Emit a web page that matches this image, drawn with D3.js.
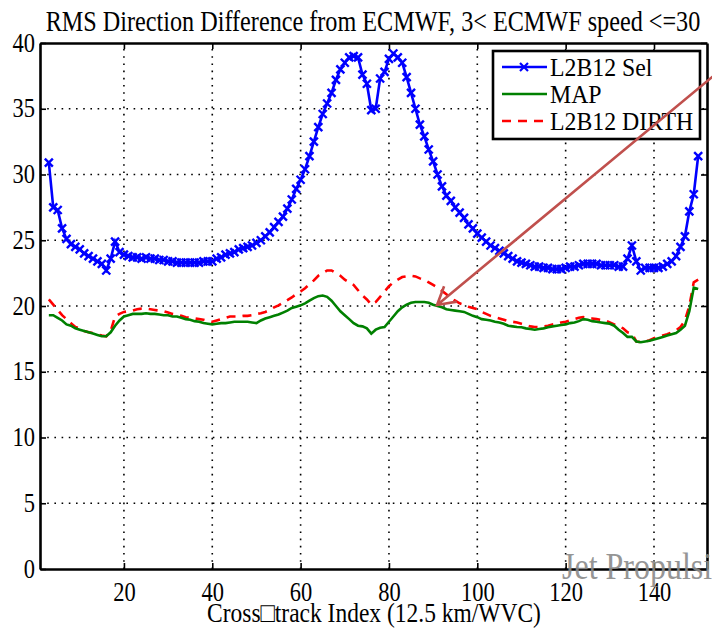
<!DOCTYPE html>
<html>
<head>
<meta charset="utf-8">
<script src="https://cdn.jsdelivr.net/npm/d3@7/dist/d3.min.js"></script>
<style>
  body { margin: 0; background: #fff; }
  text { font-family: "Liberation Serif", "Times New Roman", serif; fill: #000; }
</style>
</head>
<body>
<script>
// cross-track cells 3..150, one value per cell
var firstCell = 3;

var selRms = [
  30.9, 27.5, 27.3, 25.9, 25.1, 24.7, 24.5, 24.3, 24.0, 23.8,
  23.6, 23.4, 23.2, 22.7, 23.6, 24.9, 24.1, 23.9, 23.8, 23.7,
  23.7, 23.6, 23.7, 23.6, 23.6, 23.5, 23.5, 23.4, 23.4, 23.3,
  23.3, 23.3, 23.3, 23.3, 23.3, 23.4, 23.4, 23.4, 23.6, 23.7,
  23.9, 24.0, 24.1, 24.3, 24.4, 24.5, 24.6, 24.8, 25.0, 25.3,
  25.6, 26.0, 26.4, 26.8, 27.4, 28.1, 28.9, 29.6, 30.4, 31.4,
  32.5, 33.6, 34.6, 35.4, 36.2, 37.2, 38.0, 38.5, 38.9, 39.0,
  38.9, 37.6, 36.9, 34.9, 35.0, 37.3, 37.8, 38.8, 39.2, 38.9,
  38.5, 37.4, 36.2, 35.0, 33.8, 32.9, 31.9, 31.0, 30.0, 29.1,
  28.4, 28.0, 27.5, 27.1, 26.7, 26.2, 25.9, 25.5, 25.2, 24.9,
  24.6, 24.4, 24.2, 24.0, 23.8, 23.6, 23.4, 23.3, 23.2, 23.1,
  23.0, 23.0, 22.9, 22.9, 22.8, 22.8, 22.8, 22.9, 23.0, 23.0,
  23.1, 23.2, 23.2, 23.2, 23.2, 23.1, 23.1, 23.1, 23.1, 23.0,
  23.0, 23.6, 24.6, 23.4, 22.7, 22.9, 22.9, 22.9, 22.9, 23.0,
  23.2, 23.4, 23.8, 24.5, 25.3, 27.2, 28.5, 31.4
];

var mapRms = [
  19.3, 19.3, 19.1, 18.9, 18.6, 18.5, 18.3, 18.2, 18.1, 18.0,
  17.9, 17.8, 17.7, 17.7, 18.0, 18.5, 18.9, 19.2, 19.3, 19.4,
  19.4, 19.4, 19.45, 19.4, 19.4, 19.35, 19.3, 19.3, 19.2, 19.2,
  19.1, 19.0, 18.95, 18.85, 18.8, 18.7, 18.65, 18.6, 18.65, 18.7,
  18.7, 18.75, 18.8, 18.8, 18.8, 18.8, 18.75, 18.7, 18.9, 19.05,
  19.15, 19.25, 19.35, 19.5, 19.65, 19.85, 19.95, 20.05, 20.2, 20.4,
  20.6, 20.75, 20.8, 20.7, 20.4, 20.0, 19.6, 19.3, 19.0, 18.7,
  18.5, 18.45, 18.3, 17.9, 18.2, 18.35, 18.4, 18.8, 19.2, 19.6,
  19.9, 20.1, 20.25, 20.3, 20.3, 20.3, 20.25, 20.1, 20.0, 19.9,
  19.75, 19.7, 19.65, 19.6, 19.55, 19.4, 19.25, 19.15, 19.0, 18.95,
  18.9, 18.8, 18.75, 18.65, 18.5, 18.45, 18.4, 18.38, 18.3, 18.25,
  18.2, 18.25, 18.3, 18.38, 18.45, 18.5, 18.55, 18.6, 18.7, 18.75,
  18.85, 19.0, 18.95, 18.85, 18.8, 18.75, 18.7, 18.65, 18.5, 18.2,
  17.95, 17.65, 17.65, 17.3, 17.25, 17.3, 17.35, 17.45, 17.55, 17.65,
  17.75, 17.85, 17.95, 18.2, 18.5, 19.6, 21.4, 21.3
];

var dirthRms = [
  20.5, 20.1, 19.7, 19.3, 19.0, 18.7, 18.4, 18.3, 18.1, 18.0,
  17.95, 17.85, 17.75, 17.7, 18.1, 19.2, 19.4, 19.55, 19.6, 19.65,
  19.75, 19.8, 19.8, 19.75, 19.7, 19.65, 19.6, 19.5, 19.4, 19.35,
  19.25, 19.15, 19.1, 19.05, 19.0, 18.95, 18.85, 18.8, 18.9, 19.0,
  19.1, 19.2, 19.2, 19.2, 19.25, 19.25, 19.3, 19.4, 19.45, 19.55,
  19.7, 19.9, 20.05, 20.25, 20.45, 20.65, 20.9, 21.1, 21.35, 21.65,
  21.95, 22.3, 22.5, 22.7, 22.7, 22.5, 22.3, 22.0, 21.8, 21.6,
  21.2, 20.8, 20.5, 20.1, 20.3, 20.7, 21.1, 21.5, 21.8, 22.0,
  22.2, 22.25, 22.3, 22.25, 22.1, 22.0, 21.8, 21.6, 21.4, 21.15,
  20.9, 20.6, 20.4, 20.2, 20.1, 19.95, 19.85, 19.75, 19.55, 19.4,
  19.25, 19.15, 19.05, 18.95, 18.85, 18.8, 18.75, 18.65, 18.55, 18.45,
  18.4, 18.4, 18.45, 18.5, 18.6, 18.65, 18.75, 18.8, 18.9, 19.0,
  19.1, 19.15, 19.1, 19.05, 19.0, 18.95, 18.9, 18.75, 18.6, 18.45,
  18.3, 18.0, 17.9, 17.3, 17.25, 17.3, 17.4, 17.55, 17.65, 17.75,
  17.85, 18.0, 18.15, 18.4, 18.9, 20.0, 21.8, 22.0
];

var seriesNames = ["L2B12 Sel", "MAP", "L2B12 DIRTH"];
var xTicks = [20, 40, 60, 80, 100, 120, 140];
var yTicks = [0, 5, 10, 15, 20, 25, 30, 35, 40];

// annotation arrow, [cell, value]: tail then head
var arrowPts = [[156, 38.2], [90.9, 20.08]];

var width = 712, height = 628;
var margin = {top: 43, right: 5, bottom: 59, left: 40};
var stretch = 1.18;   // glyphs are drawn a bit taller than wide

var svg = d3.select("body").append("svg")
    .attr("width", width)
    .attr("height", height);

var x = d3.scaleLinear()
    .domain([1, 152])
    .range([margin.left, width - margin.right]);

var y = d3.scaleLinear()
    .domain([0, 40])
    .range([height - margin.bottom, margin.top]);

function toPoints(vals) {
  return vals.map(function(v, i) { return [firstCell + i, v]; });
}

var line = d3.line()
    .x(function(d) { return x(d[0]); })
    .y(function(d) { return y(d[1]); });

// dotted grid
var grid = svg.append("g")
    .attr("stroke", "#000")
    .attr("stroke-width", 1.6)
    .attr("stroke-dasharray", "1.6,5.6");

grid.selectAll("line.v")
  .data(xTicks)
  .enter().append("line")
    .attr("class", "v")
    .attr("x1", function(d) { return x(d); })
    .attr("x2", function(d) { return x(d); })
    .attr("y1", y(0))
    .attr("y2", y(40));

grid.selectAll("line.h")
  .data(yTicks.slice(1, -1))
  .enter().append("line")
    .attr("class", "h")
    .attr("y1", function(d) { return y(d); })
    .attr("y2", function(d) { return y(d); })
    .attr("x1", x(1))
    .attr("x2", x(152));

// series
svg.append("path")
    .attr("d", line(toPoints(dirthRms)))
    .attr("fill", "none")
    .attr("stroke", "#ff0000")
    .attr("stroke-width", 2.6)
    .attr("stroke-dasharray", "9,7");

svg.append("path")
    .attr("d", line(toPoints(mapRms)))
    .attr("fill", "none")
    .attr("stroke", "#008000")
    .attr("stroke-width", 2.6);

svg.append("path")
    .attr("d", line(toPoints(selRms)))
    .attr("fill", "none")
    .attr("stroke", "#0000ff")
    .attr("stroke-width", 2.6);

var m = 4;
function crossPath(cx, cy) {
  return "M" + (cx - m) + "," + (cy - m) + "L" + (cx + m) + "," + (cy + m) +
         "M" + (cx - m) + "," + (cy + m) + "L" + (cx + m) + "," + (cy - m);
}

svg.append("g")
  .selectAll("path")
  .data(toPoints(selRms))
  .enter().append("path")
    .attr("d", function(d) { return crossPath(x(d[0]), y(d[1])); })
    .attr("stroke", "#0000ff")
    .attr("stroke-width", 2.4);

// axes: ticks point inward on all four sides
var axisB = svg.append("g")
    .attr("transform", "translate(0," + y(0) + ")")
    .call(d3.axisBottom(x).tickValues(xTicks).tickSizeInner(-6).tickSizeOuter(0));

var axisT = svg.append("g")
    .attr("transform", "translate(0," + y(40) + ")")
    .call(d3.axisTop(x).tickValues(xTicks).tickSizeInner(-6).tickSizeOuter(0).tickFormat(""));

var axisL = svg.append("g")
    .attr("transform", "translate(" + x(1) + ",0)")
    .call(d3.axisLeft(y).tickValues(yTicks).tickSizeInner(-6).tickSizeOuter(0));

var axisR = svg.append("g")
    .attr("transform", "translate(" + x(152) + ",0)")
    .call(d3.axisRight(y).tickValues(yTicks).tickSizeInner(-6).tickSizeOuter(0).tickFormat(""));

[axisB, axisT, axisL, axisR].forEach(function(a) {
  a.select(".domain").attr("stroke", "#000").attr("stroke-width", 2.6);
  a.selectAll(".tick line").attr("stroke", "#000").attr("stroke-width", 1.6);
  a.selectAll("text")
      .attr("font-family", "Liberation Serif, Times New Roman, serif")
      .attr("font-size", 22.5)
      .attr("fill", "#000");
});

// tick labels: place by baseline and stretch vertically
axisB.selectAll(".tick text")
    .attr("x", 0).attr("y", 0).attr("dy", null)
    .attr("transform", "translate(0,32) scale(1," + stretch + ")");

axisL.selectAll(".tick text")
    .attr("x", 0).attr("y", 0).attr("dy", null)
    .attr("text-anchor", "end")
    .attr("transform", "translate(-5,8) scale(1," + stretch + ")");

// title and axis label
svg.append("text")
    .attr("transform", "translate(373,31) scale(1," + stretch + ")")
    .attr("text-anchor", "middle")
    .attr("font-size", 24.2)
    .text("RMS Direction Difference from ECMWF, 3< ECMWF speed <=30");

svg.append("text")
    .attr("transform", "translate(374,622) scale(1," + stretch + ")")
    .attr("text-anchor", "middle")
    .attr("font-size", 23.5)
    .text("Cross\u25A1track Index (12.5 km/WVC)");

// legend
var legend = svg.append("g");

legend.append("rect")
    .attr("x", 493)
    .attr("y", 51)
    .attr("width", 207)
    .attr("height", 88)
    .attr("fill", "#fff")
    .attr("stroke", "#000")
    .attr("stroke-width", 2.6);

var legendStyle = [
  {color: "#0000ff", dash: null, marker: true},
  {color: "#008000", dash: null, marker: false},
  {color: "#ff0000", dash: "9,7", marker: false}
];

var rows = legend.selectAll("g.row")
  .data(seriesNames)
  .enter().append("g")
    .attr("class", "row")
    .attr("transform", function(d, i) { return "translate(0," + (67 + i * 27) + ")"; });

rows.append("line")
    .attr("x1", 502)
    .attr("x2", 547)
    .attr("stroke", function(d, i) { return legendStyle[i].color; })
    .attr("stroke-width", 2.6)
    .attr("stroke-dasharray", function(d, i) { return legendStyle[i].dash; });

rows.filter(function(d, i) { return legendStyle[i].marker; })
  .append("path")
    .attr("d", crossPath(524, 0))
    .attr("stroke", "#0000ff")
    .attr("stroke-width", 2.2);

rows.append("text")
    .attr("transform", "translate(550,9) scale(1,1.05)")
    .attr("font-size", 23.8)
    .text(function(d) { return d; });

// annotation arrow
var arrowColor = "#c0504d";
var tail = [x(arrowPts[0][0]), y(arrowPts[0][1])];
var head = [x(arrowPts[1][0]), y(arrowPts[1][1])];
var ang = Math.atan2(tail[1] - head[1], tail[0] - head[0]);
var wing = 20, spread = Math.PI / 6;

svg.append("path")
    .attr("d", "M" + tail + "L" + head +
        "M" + [head[0] + wing * Math.cos(ang - spread), head[1] + wing * Math.sin(ang - spread)] +
        "L" + head +
        "L" + [head[0] + wing * Math.cos(ang + spread), head[1] + wing * Math.sin(ang + spread)])
    .attr("fill", "none")
    .attr("stroke", arrowColor)
    .attr("stroke-width", 2.6);

// watermark
svg.append("text")
    .attr("transform", "translate(562,579) scale(1," + stretch + ")")
    .attr("font-size", 32)
    .style("fill", "#8a8a8a")
    .attr("opacity", 0.9)
    .text("Jet Propulsion");
</script>
</body>
</html>
